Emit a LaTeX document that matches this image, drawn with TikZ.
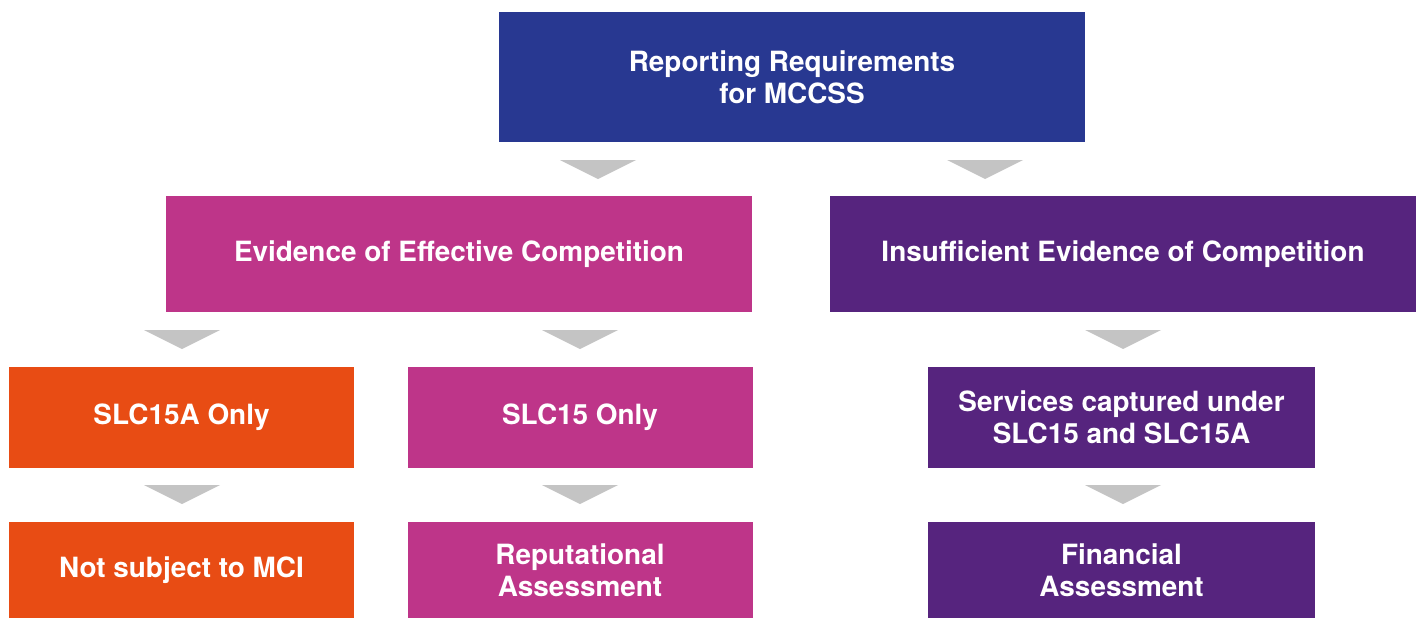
\documentclass[tikz,border=0pt]{standalone}
\usepackage{fontspec}
\setmainfont{TeX Gyre Heros}
\definecolor{mccssblue}{HTML}{283891}
\definecolor{effpink}{HTML}{BE3589}
\definecolor{insuffpurple}{HTML}{56247E}
\definecolor{slcorange}{HTML}{E84C14}
\definecolor{trigray}{HTML}{C4C4C4}
\tikzset{
  box/.style={rectangle, inner sep=0pt, text=white, align=center,
    font=\fontsize{27.9}{32}\selectfont\bfseries},
  widebox/.style={box, minimum width=586pt, minimum height=116pt},
  smallbox/.style={box, minimum width=345pt, minimum height=101pt},
  lowbox/.style={box, minimum width=345pt, minimum height=96pt},
}
\begin{document}
\begin{tikzpicture}[x=1pt,y=-1pt]
      \useasboundingbox (0,0) rectangle (1420,619);
      % top level
      \node[box, fill=mccssblue, minimum width=586pt, minimum height=130pt] (mccss) at (792,77) {Reporting Requirements\\for MCCSS};
      % second row
      \node[widebox, fill=effpink] (effective) at (459,254) {Evidence of Effective Competition};
      \node[widebox, fill=insuffpurple] (insufficient) at (1123,254) {Insufficient Evidence of Competition};
      % third row
      \node[smallbox, fill=slcorange] (slcA) at (181.5,417.5) {SLC15A Only};
      \node[smallbox, fill=effpink] (slc) at (580,417.5) {SLC15 Only};
      \node[smallbox, fill=insuffpurple, minimum width=387pt] (captured) at (1121.5,417.5) {Services captured under\\SLC15 and SLC15A};
      % bottom row
      \node[lowbox, fill=slcorange] (nomci) at (181.5,570) {Not subject to MCI};
      \node[lowbox, fill=effpink] (reputational) at (580,570) {Reputational\\Assessment};
      \node[lowbox, fill=insuffpurple, minimum width=387pt] (financial) at (1121.5,570) {Financial\\Assessment};
      % grey pointers, tip at (\tx,\ty)
      \foreach \tx/\ty in {598/179, 985/179, 182/349, 580/349, 1123/349, 182/504, 580/504, 1123/504}
        \fill[trigray] (\tx-38,\ty-19) -- (\tx+38,\ty-19) -- (\tx,\ty) -- cycle;
    \end{tikzpicture}
\end{document}
